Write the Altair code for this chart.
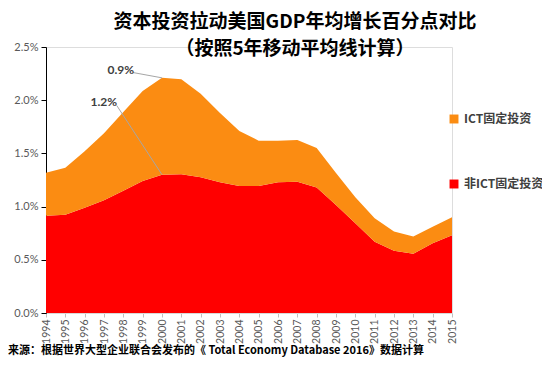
import altair as alt
import pandas as pd

# ---- data (percentage points) ----
years = list(range(1994, 2016))
non_ict = [0.915, 0.924, 0.99, 1.06, 1.15, 1.24, 1.30, 1.305, 1.275, 1.23, 1.193,
           1.193, 1.23, 1.234, 1.18, 1.015, 0.843, 0.67, 0.584, 0.556, 0.656, 0.73]
ict = [0.403, 0.441, 0.53, 0.63, 0.74, 0.847, 0.91, 0.891, 0.785, 0.65, 0.517,
       0.427, 0.39, 0.391, 0.37, 0.30, 0.244, 0.22, 0.181, 0.164, 0.154, 0.17]
series_names = ["ICT固定投资", "非ICT固定投资"]
series_colors = ["#FB8C12", "#FF0000"]
y_ticks = [0, 0.005, 0.01, 0.015, 0.02, 0.025]

ann_labels = ["0.9%", "1.2%"]
ann_year = [1997.87, 1996.99]
ann_value = [0.0228, 0.0198]
lead_x1 = [1998.5, 1997.66]
lead_y1 = [0.0226, 0.0195]
lead_x2 = [2000.0, 2000.0]
lead_y2 = [0.0221, 0.0130]

title_lines = ["资本投资拉动美国GDP年均增长百分点对比", "（按照5年移动平均线计算）"]
source_text = "来源：根据世界大型企业联合会发布的《 Total Economy Database 2016》数据计算"

rows = []
for yr, a, b in zip(years, non_ict, ict):
    rows.append({"year": str(yr), "series": "非ICT固定投资", "value": a / 100, "ord": 1})
    rows.append({"year": str(yr), "series": "ICT固定投资", "value": b / 100, "ord": 2})
df = pd.DataFrame(rows)

ann_df = pd.DataFrame({"label": ann_labels, "ay": ann_year, "value": ann_value})
lead_df = pd.DataFrame({"x1": lead_x1, "y1": lead_y1, "x2": lead_x2, "y2": lead_y2})
src_df = pd.DataFrame({"t": [source_text]})

q_scale = alt.Scale(domain=[1994, 2015], nice=False, zero=False)
y_scale = alt.Scale(domain=[0, 0.025], nice=False)

area = alt.Chart(df).mark_area(opacity=1, interpolate="linear").encode(
    x=alt.X("year:O", scale=alt.Scale(type="point", padding=0), title=None, sort=None,
            axis=alt.Axis(labelAngle=270, labelFont="Lato",
                          labelFontSize=10.5, labelColor="#595959", labelPadding=2,
                          tickSize=4, tickColor="#BFBFBF", domainColor="#D9D9D9",
                          grid=False, labelOverlap=False)),
    y=alt.Y("value:Q", stack="zero", scale=y_scale, title=None,
            axis=alt.Axis(values=y_ticks, format=".1%", labelFont="Lato",
                          labelFontSize=11, labelColor="#595959", labelPadding=3,
                          tickSize=5, tickColor="#000000", domainColor="#000000",
                          grid=False)),
    color=alt.Color("series:N", scale=alt.Scale(domain=series_names, range=series_colors),
                    legend=alt.Legend(title=None, orient="none", legendX=402, legendY=66,
                                      symbolType="square", symbolSize=80,
                                      symbolStrokeWidth=0, labelFont="Noto Sans CJK SC",
                                      labelFontSize=12, labelFontWeight="bold",
                                      labelColor="#404040", rowPadding=53, labelOffset=4)),
    order=alt.Order("ord:Q"),
)

leads = alt.Chart(lead_df).mark_rule(color="#A6A6A6", strokeWidth=1).encode(
    x=alt.X("x1:Q", scale=q_scale, axis=None), x2="x2:Q",
    y=alt.Y("y1:Q", scale=y_scale, stack=None), y2="y2:Q",
)

ann = alt.Chart(ann_df).mark_text(font="Lato", fontSize=12, fontWeight="bold",
                                  color="#404040").encode(
    x=alt.X("ay:Q", scale=q_scale, axis=None),
    y=alt.Y("value:Q", scale=y_scale, stack=None),
    text="label:N",
)

src = alt.Chart(src_df).mark_text(font="Noto Sans CJK SC", fontSize=11, fontWeight="bold",
                                  color="#000000", align="left", baseline="middle").encode(
    x=alt.value(-38), y=alt.value(304), text="t:N",
)

chart = alt.layer(area, alt.layer(leads, ann).resolve_scale(x="shared"), src).resolve_scale(
    x="independent"
).properties(
    width=406, height=266,
    autosize=alt.AutoSizeParams(type="none"),
    padding={"left": 38, "top": 39, "right": 90, "bottom": 45},
    title=alt.TitleParams(text=title_lines, font="Noto Sans CJK SC", fontSize=19,
                          fontWeight="bold", color="#000000", anchor="middle",
                          dx=46, lineHeight=27, offset=-18),
).configure_view(stroke=None).configure(background="#FFFFFF")

chart.save("out.html", embed_options={"renderer": "svg", "actions": False})
